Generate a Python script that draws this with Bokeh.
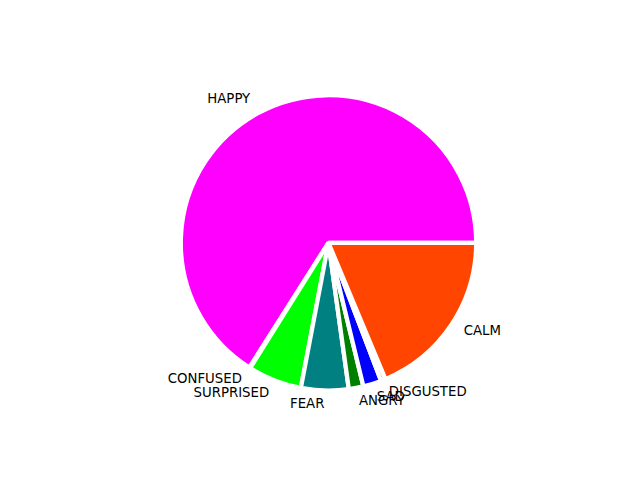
import numpy as np
from bokeh.plotting import figure
from bokeh.models import ColumnDataSource, Range1d
from bokeh.core.properties import value
from bokeh.embed import file_html
from bokeh.resources import INLINE

# Data
emotions = ["HAPPY", "CONFUSED", "SURPRISED", "FEAR", "ANGRY", "SAD", "DISGUSTED", "CALM"]
shares = [66.0, 0.1, 5.9, 5.2, 1.6, 2.0, 0.5, 18.7]
colors = ["#ff00ff", "#ffa500", "#00ff00", "#008080", "#008000", "#0000ff", "#a52a2a", "#ff4500"]

frac = np.array(shares, dtype=float) / float(sum(shares))
ends = np.cumsum(frac) * 2 * np.pi
starts = ends - frac * 2 * np.pi
mids = (starts + ends) / 2.0

W, H = 640, 480
scale = 147.7          # pixels per data unit
cx_px, cy_px = 328.0, 242.4

p = figure(width=W, height=H, output_backend="svg", toolbar_location=None,
           x_axis_location=None, y_axis_location=None, min_border=0,
           x_range=Range1d(-cx_px / scale, (W - cx_px) / scale),
           y_range=Range1d(-(H - cy_px) / scale, cy_px / scale))
p.outline_line_color = None
p.xgrid.visible = False
p.ygrid.visible = False
p.background_fill_color = "white"
p.border_fill_color = "white"

wsrc = ColumnDataSource(dict(x=[0.0] * len(emotions), y=[0.0] * len(emotions),
                             start=list(starts), end=list(ends), color=colors,
                             name=emotions))
p.wedge(x="x", y="y", radius=1.0, start_angle="start", end_angle="end",
        direction="anticlock", fill_color="color", line_color="white",
        line_width=4.3, line_join="bevel", source=wsrc)

lx = 1.1 * np.cos(mids)
ly = 1.1 * np.sin(mids)
left = lx > 0
for mask, align in ((left, "left"), (~left, "right")):
    src = ColumnDataSource(dict(x=list(lx[mask]), y=list(ly[mask]),
                                text=[e for e, m in zip(emotions, mask) if m]))
    p.text(x="x", y="y", text="text", source=src, text_align=align,
           text_baseline="middle", text_font=value("DejaVu Sans"),
           text_font_size="13.3px", text_color="black", y_offset=-2)

open("out.html", "w").write(file_html(p, INLINE))
